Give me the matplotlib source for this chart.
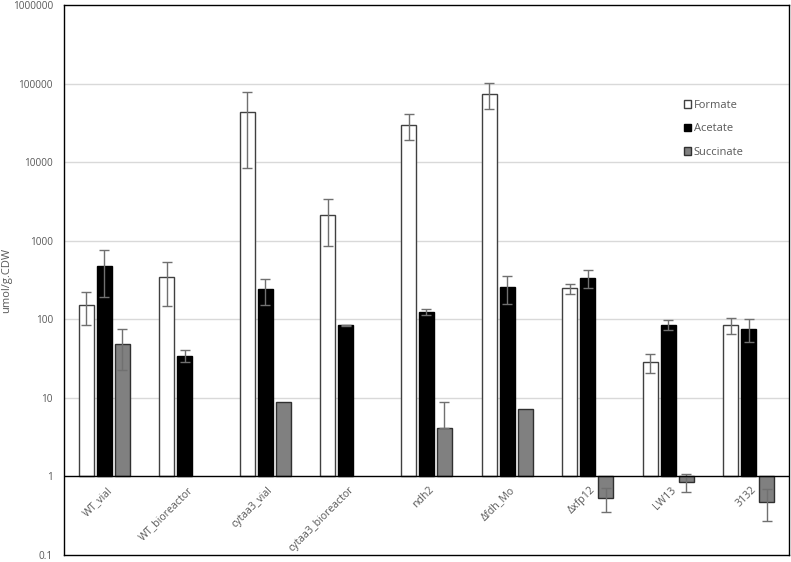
import numpy as np
import matplotlib
matplotlib.use("Agg")
import matplotlib.pyplot as plt
from matplotlib.ticker import FixedLocator, FixedFormatter, NullLocator

plt.rcParams['font.family'] = ['Open Sans', 'DejaVu Sans']

categories = ["WT_vial", "WT_bioreactor", "cytaa3_vial", "cytaa3_bioreactor",
              "ndh2", "Δfdh_Mo", "Δxfp12", "LW13", "3132"]
formate = [153, 341, 43400, 2114, 29700, 74300, 247, 28.3, 83.7]
formate_err = [68, 195, 35000, 1260, 10700, 27500, 37, 7.4, 19]
acetate = [475, 34.5, 240, 83.7, 124, 254, 334, 85.4, 76]
acetate_err = [285, 6, 90, 2, 12, 98, 85, 12, 24]
succinate = [48.5, np.nan, 8.9, np.nan, 4.1, 7.3, 0.536, 0.855, 0.477]
succinate_err = [26, np.nan, 0.0, np.nan, 4.8, 0.0, 0.18, 0.22, 0.21]
series_names = ["Formate", "Acetate", "Succinate"]
ytick_vals = [0.1, 1, 10, 100, 1000, 10000, 100000, 1000000]
ytick_labels = ["0.1", "1", "10", "100", "1000", "10000", "100000", "1000000"]

fig = plt.figure(figsize=(7.91, 5.62), dpi=100)
ax = fig.add_axes([64/791, 7/562, 725/791, 550/562])
ax.set_yscale('log')
ax.set_ylim(0.1, 1000000)
n = len(categories)
ax.set_xlim(-0.5, n - 0.5)

x = np.arange(n)
width = 0.186
pitch = 0.223
base = 1.0
styles = [dict(facecolor='white', edgecolor='#404040'),
          dict(facecolor='black', edgecolor='black'),
          dict(facecolor='#808080', edgecolor='#303030')]
data = [(formate, formate_err), (acetate, acetate_err), (succinate, succinate_err)]
handles = []
for i, ((vals, errs), st, name) in enumerate(zip(data, styles, series_names)):
    vals = np.array(vals, dtype=float)
    errs = np.array(errs, dtype=float)
    xpos = x + (i - 1) * pitch
    mask = ~np.isnan(vals)
    h = ax.bar(xpos[mask], vals[mask] - base, bottom=base, width=width,
               linewidth=1.0, zorder=3, label=name, **st)
    handles.append(h)
    emask = mask & (errs > 0)
    lower = np.where(vals - errs > 0, errs, 0.0)
    ax.errorbar(xpos[emask], vals[emask],
                yerr=[lower[emask], errs[emask]], fmt='none',
                ecolor='#707070', elinewidth=1.0, capsize=3.5, capthick=1.0,
                zorder=4)

ax.axhline(1, color='black', linewidth=1.0, zorder=5)
ax.yaxis.set_major_locator(FixedLocator(ytick_vals))
ax.yaxis.set_major_formatter(FixedFormatter(ytick_labels))
ax.yaxis.set_minor_locator(NullLocator())
ax.tick_params(axis='y', length=0, pad=8, labelsize=7.2, labelcolor='#595959')
ax.set_xticks([])
for v in ytick_vals[2:-1]:
    ax.axhline(v, color='#d9d9d9', linewidth=1.0, zorder=1)
for s in ax.spines.values():
    s.set_color('black')
    s.set_linewidth(1.0)

for xi, lab in zip(x, categories):
    ax.annotate(lab, xy=(xi, 1), xycoords='data', xytext=(1.5, -6),
                textcoords='offset points', rotation=45, ha='right', va='top',
                rotation_mode='anchor', fontsize=7.6, color='#595959')

fig.text(7/791, 1 - 280/562, "umol/g.CDW", rotation=90, ha='center',
         va='center', fontsize=8, color='#595959')

leg = fig.legend(handles=handles, labels=series_names, loc='upper left',
                 bbox_to_anchor=(678/791, 1 - 94/562), frameon=False,
                 handlelength=0.7, handleheight=0.7, handletextpad=0.2,
                 labelspacing=1.15, fontsize=8, borderpad=0)
for t in leg.get_texts():
    t.set_color('#595959')

fig.savefig("out.png", dpi=100)
